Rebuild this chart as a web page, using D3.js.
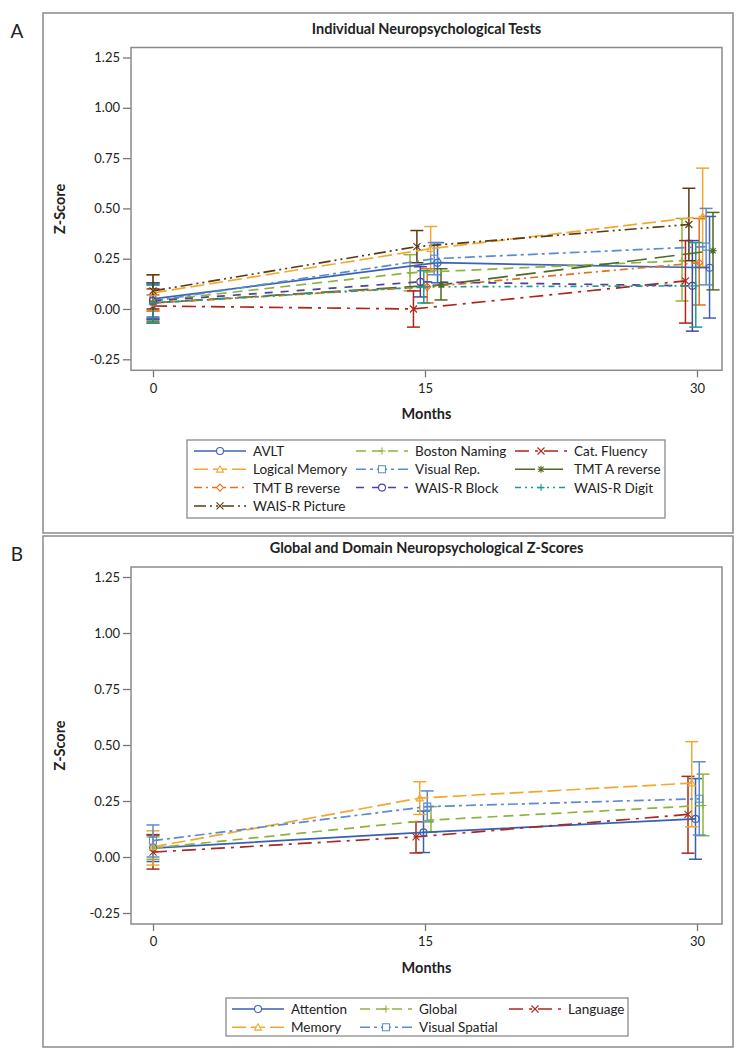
<!DOCTYPE html>
<html>
<head>
<meta charset="utf-8">
<script src="https://cdn.jsdelivr.net/npm/d3@7"></script>
<style>
  body { margin: 0; background: #fff; }
  text { font-family: Lato, "Open Sans", sans-serif; fill: #222; }
</style>
</head>
<body>
<script>
const width = 744;
const height = 1056;

// shared
const months = [0, 15, 30];
const yTicks = [-0.25, 0, 0.25, 0.5, 0.75, 1.0, 1.25];

// panel A: individual tests (legend order)
const testNames = ["AVLT", "Boston Naming", "Cat. Fluency", "Logical Memory", "Visual Rep.",
  "TMT A reverse", "TMT B reverse", "WAIS-R Block", "WAIS-R Digit", "WAIS-R Picture"];
const testMean = [
  [0.05, 0.23, 0.205],
  [0.04, 0.18, 0.24],
  [0.015, 0.00, 0.14],
  [0.08, 0.30, 0.46],
  [0.04, 0.25, 0.31],
  [0.03, 0.12, 0.29],
  [0.03, 0.11, 0.23],
  [0.04, 0.135, 0.115],
  [0.03, 0.11, 0.115],
  [0.09, 0.31, 0.42]
];
const testLower = [
  [-0.04, 0.13, -0.045],
  [-0.05, 0.09, 0.04],
  [-0.07, -0.09, -0.07],
  [-0.01, 0.19, 0.21],
  [-0.05, 0.17, 0.12],
  [-0.06, 0.045, 0.095],
  [-0.01, 0.03, 0.02],
  [-0.05, 0.06, -0.11],
  [-0.07, 0.03, -0.09],
  [0.00, 0.23, 0.24]
];
const testUpper = [
  [0.13, 0.33, 0.46],
  [0.13, 0.27, 0.45],
  [0.10, 0.09, 0.34],
  [0.17, 0.41, 0.70],
  [0.13, 0.33, 0.50],
  [0.12, 0.20, 0.48],
  [0.07, 0.20, 0.45],
  [0.13, 0.21, 0.34],
  [0.12, 0.19, 0.33],
  [0.17, 0.39, 0.60]
];
// cluster order of the groups around each follow-up visit
const testDodge = ["Boston Naming", "Cat. Fluency", "WAIS-R Picture", "WAIS-R Block", "WAIS-R Digit",
  "TMT B reverse", "Logical Memory", "Visual Rep.", "AVLT", "TMT A reverse"];

// panel B: global and domain scores
const domainNames = ["Attention", "Global", "Language", "Memory", "Visual Spatial"];
const domainMean = [
  [0.04, 0.11, 0.17],
  [0.04, 0.165, 0.23],
  [0.022, 0.09, 0.19],
  [0.045, 0.263, 0.33],
  [0.073, 0.225, 0.26]
];
const domainLower = [
  [-0.02, 0.02, -0.01],
  [-0.01, 0.11, 0.095],
  [-0.054, 0.018, 0.017],
  [-0.036, 0.19, 0.135],
  [0.00, 0.157, 0.098]
];
const domainUpper = [
  [0.10, 0.205, 0.35],
  [0.09, 0.225, 0.37],
  [0.098, 0.157, 0.36],
  [0.117, 0.336, 0.515],
  [0.143, 0.295, 0.425]
];
const domainDodge = ["Language", "Memory", "Attention", "Visual Spatial", "Global"];

// styles
const testColors = ["#3b63b8", "#8db43a", "#b02418", "#f0a830", "#5b8bd0",
  "#4f6a22", "#e07020", "#50409a", "#1a9c8c", "#5a3a12"];
const testDash = ["none", "10 6", "14 6 3 6", "14 5", "10 4 3 4",
  "20 8", "8 4 2 4", "8 8", "6 4 2 4 2 4", "12 4 2 4 2 4"];
const testSymbol = ["circle", "plus", "x", "triangle", "square",
  "star", "diamond", "circle", "plus", "x"];

const domainColors = ["#3a5fb0", "#8db43a", "#a82a1e", "#f0a830", "#5b8bd0"];
const domainDash = ["none", "10 6", "14 6 3 6", "14 5", "10 4 3 4"];
const domainSymbol = ["circle", "plus", "x", "triangle", "square"];

const svg = d3.select("body").append("svg")
  .attr("width", width)
  .attr("height", height);

function markerPath(type, r) {
  const p = d3.path();
  if (type === "circle") {
    p.moveTo(r, 0); p.arc(0, 0, r, 0, 2 * Math.PI);
  } else if (type === "triangle") {
    p.moveTo(0, -r); p.lineTo(r, r * 0.8); p.lineTo(-r, r * 0.8); p.closePath();
  } else if (type === "square") {
    p.rect(-r, -r, 2 * r, 2 * r);
  } else if (type === "diamond") {
    p.moveTo(0, -r); p.lineTo(r, 0); p.lineTo(0, r); p.lineTo(-r, 0); p.closePath();
  } else if (type === "plus") {
    p.moveTo(-r, 0); p.lineTo(r, 0); p.moveTo(0, -r); p.lineTo(0, r);
  } else if (type === "x") {
    p.moveTo(-r, -r); p.lineTo(r, r); p.moveTo(-r, r); p.lineTo(r, -r);
  } else if (type === "star") {
    p.moveTo(-r, 0); p.lineTo(r, 0); p.moveTo(0, -r); p.lineTo(0, r);
    const k = r * 0.75;
    p.moveTo(-k, -k); p.lineTo(k, k); p.moveTo(-k, k); p.lineTo(k, -k);
  }
  return p.toString();
}

const fmt = v => d3.format(".2f")(v).replace("\u2212", "-");

function drawPanel(cfg) {
  const g = svg.append("g");

  // outer frame
  g.append("rect")
    .attr("x", 43).attr("y", cfg.frameTop)
    .attr("width", 690).attr("height", cfg.frameBottom - cfg.frameTop)
    .attr("fill", "none").attr("stroke", "#8a8a8a").attr("stroke-width", 1.5);

  g.append("text")
    .attr("x", 17).attr("y", cfg.frameTop + 25)
    .attr("text-anchor", "middle")
    .style("font-size", "19px")
    .text(cfg.letter);

  const x = d3.scaleLinear().domain([0, 30]).range([153, 697]);
  const y = d3.scaleLinear().domain([-0.25, 1.25]).range([cfg.yZero + cfg.qStep, cfg.yZero - 5 * cfg.qStep]);
  const plotL = 131, plotR = 722;
  const plotT = y(1.25) - 10, plotB = y(-0.25) + 11;

  const dodge = d3.scalePoint().domain(cfg.dodge).range(cfg.dodgeRange);
  const px = (name, m) => x(m) + (m === 0 ? 0 : dodge(name));

  g.append("text")
    .attr("x", (plotL + plotR) / 2).attr("y", plotT - 14)
    .attr("text-anchor", "middle")
    .style("font-size", "14.5px").style("font-weight", "bold")
    .text(cfg.title);

  // axes
  const yAxis = g.append("g")
    .attr("transform", `translate(${plotL},0)`)
    .call(d3.axisLeft(y).tickValues(yTicks).tickFormat(fmt).tickSize(8).tickSizeOuter(0));
  yAxis.select(".domain").remove();
  yAxis.selectAll(".tick line").attr("stroke", "#777").attr("stroke-width", 1.3);
  yAxis.selectAll(".tick text").attr("x", -11).style("font-size", "13px")
    .style("font-family", "Lato, 'Open Sans', sans-serif").attr("fill", "#333");

  const xAxis = g.append("g")
    .attr("transform", `translate(0,${plotB})`)
    .call(d3.axisBottom(x).tickValues(months).tickSize(7).tickSizeOuter(0));
  xAxis.select(".domain").remove();
  xAxis.selectAll(".tick line").attr("stroke", "#777").attr("stroke-width", 1.3);
  xAxis.selectAll(".tick text").attr("y", 13).style("font-size", "13px")
    .style("font-family", "Lato, 'Open Sans', sans-serif").attr("fill", "#333");

  g.append("rect")
    .attr("x", plotL).attr("y", plotT)
    .attr("width", plotR - plotL).attr("height", plotB - plotT)
    .attr("fill", "none").attr("stroke", "#8a8a8a").attr("stroke-width", 1.5);

  g.append("text")
    .attr("transform", `translate(65,${(plotT + plotB) / 2}) rotate(-90)`)
    .attr("text-anchor", "middle")
    .style("font-size", "14.5px").style("font-weight", "bold")
    .text("Z-Score");

  g.append("text")
    .attr("x", (plotL + plotR) / 2).attr("y", plotB + 49)
    .attr("text-anchor", "middle")
    .style("font-size", "14.5px").style("font-weight", "bold")
    .text("Months");

  const series = cfg.names.map((name, i) => ({
    name, i,
    pts: months.map((m, j) => ({ m, v: cfg.mean[i][j], lo: cfg.lower[i][j], hi: cfg.upper[i][j] }))
  }));

  const line = d3.line();

  // error bars
  const capW = 6.5;
  series.forEach(s => {
    const eg = g.append("g").attr("stroke", cfg.colors[s.i]).attr("stroke-width", 1.5).attr("fill", "none");
    s.pts.forEach(p => {
      const cx = px(s.name, p.m);
      eg.append("line").attr("x1", cx).attr("x2", cx).attr("y1", y(p.lo)).attr("y2", y(p.hi));
      eg.append("line").attr("x1", cx - capW).attr("x2", cx + capW).attr("y1", y(p.lo)).attr("y2", y(p.lo));
      eg.append("line").attr("x1", cx - capW).attr("x2", cx + capW).attr("y1", y(p.hi)).attr("y2", y(p.hi));
    });
  });

  // mean lines
  g.selectAll(null)
    .data(series)
    .enter()
    .append("path")
    .attr("d", s => line(s.pts.map(p => [px(s.name, p.m), y(p.v)])))
    .attr("fill", "none")
    .attr("stroke", s => cfg.colors[s.i])
    .attr("stroke-width", 1.7)
    .attr("stroke-dasharray", s => cfg.dash[s.i]);

  // markers
  series.forEach(s => {
    g.selectAll(null)
      .data(s.pts)
      .enter()
      .append("path")
      .attr("transform", p => `translate(${px(s.name, p.m)},${y(p.v)})`)
      .attr("d", markerPath(cfg.symbols[s.i], 3.5))
      .attr("fill", "none")
      .attr("stroke", cfg.colors[s.i])
      .attr("stroke-width", 1.1);
  });

  // legend
  const L = cfg.legend;
  g.append("rect")
    .attr("x", L.x).attr("y", L.y).attr("width", L.w).attr("height", L.h)
    .attr("fill", "none").attr("stroke", "#8a8a8a").attr("stroke-width", 1.3);

  cfg.names.forEach((name, i) => {
    const col = i % 3, row = Math.floor(i / 3);
    const lx = L.cols[col], ly = L.y + 11 + row * 18.3;
    g.append("line")
      .attr("x1", lx).attr("x2", lx + 52).attr("y1", ly).attr("y2", ly)
      .attr("stroke", cfg.colors[i]).attr("stroke-width", 1.5)
      .attr("stroke-dasharray", cfg.dash[i]);
    g.append("path")
      .attr("transform", `translate(${lx + 26},${ly})`)
      .attr("d", markerPath(cfg.symbols[i], 3.5))
      .attr("fill", "#fff")
      .attr("stroke", cfg.colors[i]).attr("stroke-width", 1.1);
    g.append("text")
      .attr("x", lx + 59).attr("y", ly + 5)
      .style("font-size", "13.5px")
      .text(name);
  });
}

drawPanel({
  letter: "A",
  title: "Individual Neuropsychological Tests",
  frameTop: 13, frameBottom: 533,
  yZero: 309, qStep: 50.3,
  names: testNames, mean: testMean, lower: testLower, upper: testUpper,
  colors: testColors, dash: testDash, symbols: testSymbol,
  dodge: testDodge, dodgeRange: [-15, 16],
  legend: { x: 187, y: 440, w: 478, h: 78, cols: [194, 356, 515] }
});

drawPanel({
  letter: "B",
  title: "Global and Domain Neuropsychological Z-Scores",
  frameTop: 536, frameBottom: 1047,
  yZero: 857, qStep: 56,
  names: domainNames, mean: domainMean, lower: domainLower, upper: domainUpper,
  colors: domainColors, dash: domainDash, symbols: domainSymbol,
  dodge: domainDodge, dodgeRange: [-9, 6],
  legend: { x: 226, y: 998, w: 402, h: 38, cols: [232, 360, 509] }
});
</script>
</body>
</html>
